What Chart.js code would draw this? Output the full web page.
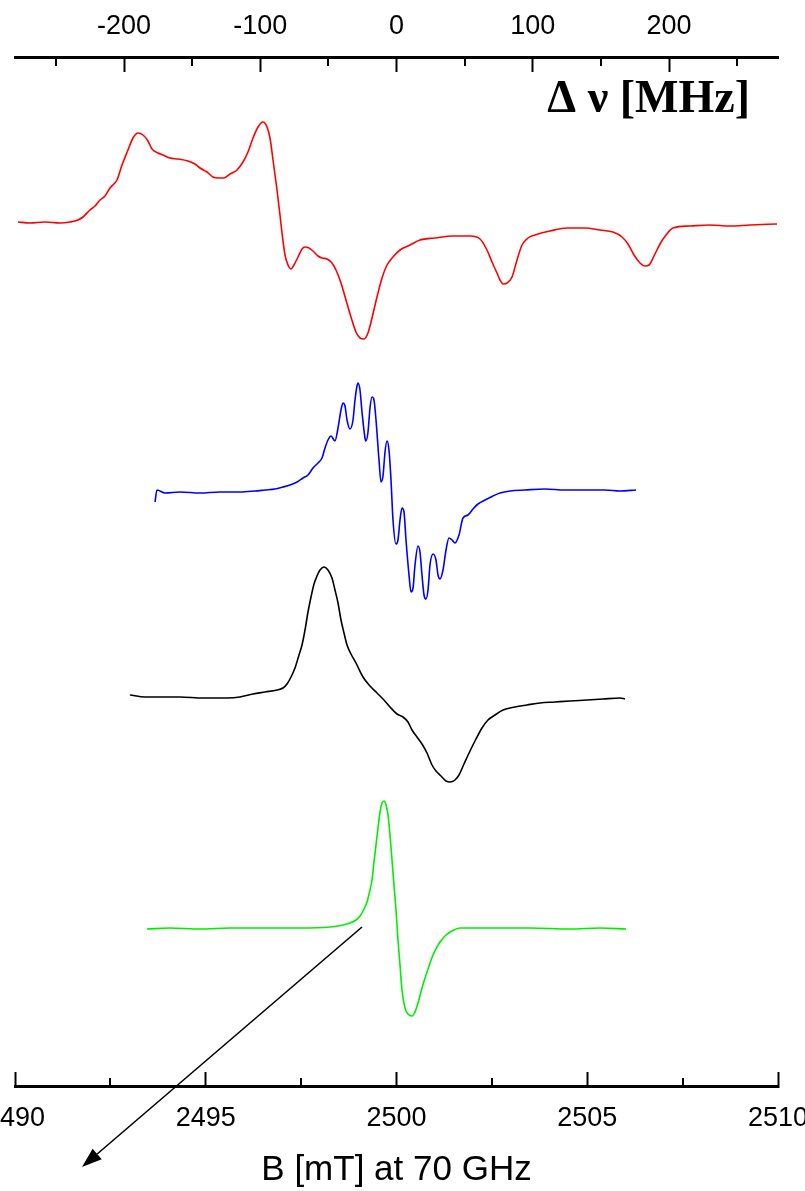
<!DOCTYPE html>
<html>
<head>
<meta charset="utf-8">
<script src="https://cdn.jsdelivr.net/npm/chart.js@4.4.1/dist/chart.umd.min.js"></script>
<style>
html,body{margin:0;padding:0;background:#fff;}
#wrap{width:805px;height:1191px;position:relative;}
</style>
</head>
<body>
<div id="wrap"><canvas id="c" width="805" height="1191"></canvas></div>
<script>
// ---- axis definitions ----
const B_MIN = 2490, B_MAX = 2510, B_CENTER = 2500;
const MHZ_PER_MT = 28;            // 70 GHz / 2500 mT
const bottomMajorStep = 5;
const bottomMinorTicks = [2492.5, 2497.5, 2502.5, 2507.5];
const topMajorStep = 100;
const topMinorTicks = [-250, -150, -50, 50, 150, 250];

// ---- vertical stacking offsets of the four spectra (arb. units) ----
const seriesNames = ['red', 'blue', 'black', 'green'];
const seriesColors = ['#ff0000', '#0000ff', '#000000', '#00ee00'];
const seriesOffsets = [863, 595, 388, 158];

// ---- spectrum 1 (red) ----
const redB = [2490.079,2490.393,2490.786,2491.180,2491.442,2491.651,2491.782,2491.966,2492.097,2492.228,2492.359,2492.490,2492.674,2492.805,2492.962,2493.093,2493.224,2493.355,2493.486,2493.591,2493.748,2493.879,2494.063,2494.273,2494.535,2494.718,2494.849,2495.033,2495.190,2495.321,2495.478,2495.636,2495.819,2495.976,2496.107,2496.239,2496.370,2496.501,2496.606,2496.684,2496.763,2496.868,2496.946,2496.999,2497.077,2497.156,2497.235,2497.313,2497.418,2497.523,2497.602,2497.706,2497.811,2497.942,2498.047,2498.178,2498.309,2498.414,2498.545,2498.676,2498.807,2498.938,2499.043,2499.148,2499.253,2499.358,2499.489,2499.620,2499.751,2499.908,2500.092,2500.354,2500.616,2501.009,2501.481,2501.927,2502.189,2502.372,2502.503,2502.634,2502.713,2502.792,2502.897,2503.028,2503.159,2503.290,2503.447,2503.630,2504.023,2504.469,2504.941,2505.334,2505.675,2505.911,2506.068,2506.225,2506.383,2506.514,2506.619,2506.750,2506.907,2507.064,2507.248,2507.693,2508.218,2508.742,2509.266,2509.974];
const redI = [1,0,1,0,1,3,6,13,17,23,27,35,43,58,73,85,90,88,82,74,70,68,65,64,62,59,55,51,46,45,45,49,53,61,71,85,96,101,96,85,63,33,8,-10,-32,-42,-46,-42,-34,-26,-24,-25,-28,-33,-35,-36,-40,-47,-60,-77,-94,-109,-115,-116,-110,-95,-74,-55,-42,-34,-27,-22,-17,-15,-13,-13,-16,-27,-39,-50,-57,-61,-60,-54,-37,-22,-15,-12,-8,-5,-5,-7,-9,-14,-21,-32,-40,-43,-42,-33,-21,-12,-5,-3,-2,-3,-2,-1];

// ---- spectrum 2 (blue) ----
const blueB = [2493.670,2493.722,2493.932,2494.325,2494.849,2495.374,2495.898,2496.291,2496.553,2496.815,2497.025,2497.208,2497.392,2497.549,2497.680,2497.811,2497.942,2498.047,2498.126,2498.204,2498.283,2498.388,2498.467,2498.545,2498.598,2498.650,2498.703,2498.781,2498.860,2498.912,2498.965,2498.991,2499.043,2499.096,2499.174,2499.200,2499.253,2499.305,2499.358,2499.410,2499.463,2499.541,2499.594,2499.646,2499.699,2499.751,2499.803,2499.856,2499.908,2499.987,2500.039,2500.092,2500.144,2500.197,2500.249,2500.328,2500.380,2500.433,2500.485,2500.564,2500.616,2500.668,2500.721,2500.773,2500.826,2500.878,2500.957,2501.035,2501.088,2501.140,2501.219,2501.298,2501.376,2501.455,2501.533,2501.638,2501.743,2501.874,2502.005,2502.136,2502.320,2502.530,2502.713,2502.975,2503.368,2503.893,2504.417,2504.941,2505.465,2505.858,2506.278];
const blueI = [-11,1,-2,-1,-2,-1,-1,0,1,2,4,6,9,13,16,23,28,33,43,51,55,50,63,81,88,85,71,62,71,91,105,108,101,79,53,50,59,83,94,91,71,31,9,15,39,50,41,11,-29,-53,-49,-29,-17,-21,-49,-84,-101,-97,-74,-55,-61,-84,-104,-108,-99,-74,-63,-69,-84,-88,-79,-59,-47,-49,-52,-44,-27,-24,-18,-13,-9,-5,-2,0,1,2,1,1,1,0,1];

// ---- spectrum 3 (black) ----
const blackB = [2493.014,2493.408,2493.801,2494.325,2494.928,2495.557,2495.898,2496.239,2496.553,2496.868,2497.025,2497.130,2497.235,2497.339,2497.444,2497.523,2497.602,2497.680,2497.759,2497.838,2497.916,2497.995,2498.100,2498.204,2498.309,2498.388,2498.467,2498.545,2498.624,2498.703,2498.807,2498.938,2499.122,2499.305,2499.489,2499.672,2499.830,2500.013,2500.170,2500.301,2500.406,2500.537,2500.668,2500.800,2500.931,2501.035,2501.166,2501.298,2501.402,2501.533,2501.638,2501.769,2501.927,2502.084,2502.241,2502.398,2502.582,2502.792,2503.106,2503.421,2503.762,2504.155,2504.548,2504.994,2505.413,2505.858,2505.989];
const blackI = [3,1,1,1,0,0,1,4,6,8,10,14,21,30,43,53,68,86,101,114,122,128,131,128,120,108,95,78,65,53,44,35,21,12,5,-2,-9,-16,-19,-24,-32,-39,-46,-55,-67,-73,-78,-83,-84,-82,-77,-66,-53,-41,-30,-22,-17,-12,-9,-7,-5,-4,-3,-2,-1,0,-1];

// ---- spectrum 4 (green) ----
const greenB = [2493.460,2494.063,2494.849,2495.636,2496.501,2497.471,2498.257,2498.598,2498.781,2498.938,2499.043,2499.148,2499.227,2499.305,2499.358,2499.410,2499.463,2499.515,2499.568,2499.620,2499.672,2499.725,2499.777,2499.830,2499.882,2499.934,2499.987,2500.039,2500.092,2500.144,2500.223,2500.301,2500.406,2500.485,2500.564,2500.668,2500.800,2500.957,2501.140,2501.298,2501.455,2501.664,2502.451,2503.499,2504.548,2505.334,2506.016];
const greenI = [-1,0,-1,0,0,0,1,3,5,8,12,19,26,38,48,66,83,100,116,125,127,123,113,93,68,43,18,-12,-37,-62,-80,-86,-88,-84,-75,-60,-44,-27,-14,-7,-3,0,0,0,-1,0,-1];

// ---- annotation arrow (data coords: B, stacked y) ----
const arrowFrom = [2499.096, 159];
const arrowTo = [2491.756, -81];

const seriesB = [redB, blueB, blackB, greenB];
const seriesI = [redI, blueI, blackI, greenI];

const datasets = seriesNames.map((name, k) => ({
  label: name,
  data: seriesB[k].map((b, i) => ({x: b, y: seriesOffsets[k] + seriesI[k][i]})),
  borderColor: seriesColors[k],
  borderWidth: 1.6,
  pointRadius: 0,
  fill: false,
  cubicInterpolationMode: 'monotone',
  xAxisID: 'x',
  yAxisID: 'y'
}));

const SANS = '"Liberation Sans", Arial, sans-serif';

const extrasPlugin = {
  id: 'extras',
  afterDraw(chart) {
    const ctx = chart.ctx;
    const xs = chart.scales.x, xt = chart.scales.x2, ys = chart.scales.y;
    ctx.save();
    ctx.strokeStyle = '#000';
    ctx.lineWidth = 2;
    // minor ticks bottom (inward)
    bottomMinorTicks.forEach(v => {
      const px = Math.round(xs.getPixelForValue(v));
      ctx.beginPath(); ctx.moveTo(px, xs.top); ctx.lineTo(px, xs.top - 8); ctx.stroke();
    });
    // minor ticks top (inward)
    topMinorTicks.forEach(v => {
      const px = Math.round(xt.getPixelForValue(v));
      ctx.beginPath(); ctx.moveTo(px, xt.bottom); ctx.lineTo(px, xt.bottom + 9); ctx.stroke();
    });
    // top axis caption
    ctx.fillStyle = '#000';
    ctx.font = 'bold 46px "Liberation Serif", "Times New Roman", serif';
    ctx.textAlign = 'right';
    ctx.textBaseline = 'alphabetic';
    ctx.fillText('\u0394 \u03bd [MHz]', 750, 112);
    // arrow
    const x1 = xs.getPixelForValue(arrowFrom[0]), y1 = ys.getPixelForValue(arrowFrom[1]);
    const x2 = xs.getPixelForValue(arrowTo[0]), y2 = ys.getPixelForValue(arrowTo[1]);
    const ang = Math.atan2(y2 - y1, x2 - x1);
    const L = 20, W = 7;
    const bx = x2 - L * Math.cos(ang), by = y2 - L * Math.sin(ang);
    ctx.lineWidth = 1.6;
    ctx.beginPath(); ctx.moveTo(x1, y1); ctx.lineTo(bx, by); ctx.stroke();
    ctx.beginPath();
    ctx.moveTo(x2, y2);
    ctx.lineTo(bx + W * Math.sin(ang), by - W * Math.cos(ang));
    ctx.lineTo(bx - W * Math.sin(ang), by + W * Math.cos(ang));
    ctx.closePath(); ctx.fill();
    ctx.restore();
  }
};

new Chart(document.getElementById('c'), {
  type: 'line',
  data: {datasets},
  plugins: [extrasPlugin],
  options: {
    responsive: false,
    animation: false,
    devicePixelRatio: 1,
    layout: {padding: {left: 15, right: 27, top: 0, bottom: 0}},
    plugins: {legend: {display: false}, tooltip: {enabled: false}},
    scales: {
      x: {
        type: 'linear', position: 'bottom', min: B_MIN, max: B_MAX,
        ticks: {stepSize: bottomMajorStep, color: '#000', padding: 30, maxRotation: 0,
                font: {family: SANS, size: 27}, callback: v => String(v)},
        grid: {display: true, drawOnChartArea: false, drawTicks: true, tickLength: -14, tickWidth: 2, tickColor: '#000'},
        border: {display: true, width: 3, color: '#000'},
        title: {display: true, text: 'B [mT] at 70 GHz', color: '#000', font: {family: SANS, size: 35}, padding: {top: 0, bottom: 0}},
        afterFit(s) { s.height = 105; s.paddingLeft = 0; s.paddingRight = 0; }
      },
      x2: {
        type: 'linear', position: 'top',
        min: (B_MIN - B_CENTER) * MHZ_PER_MT, max: (B_MAX - B_CENTER) * MHZ_PER_MT,
        ticks: {stepSize: topMajorStep, includeBounds: false, color: '#000', padding: 29, maxRotation: 0,
                font: {family: SANS, size: 27}, callback: v => String(v)},
        grid: {display: true, drawOnChartArea: false, drawTicks: true, tickLength: -15, tickWidth: 2, tickColor: '#000'},
        border: {display: true, width: 3, color: '#000'},
        afterFit(s) { s.height = 57; s.paddingLeft = 0; s.paddingRight = 0; }
      },
      y: {
        type: 'linear', display: false, min: 0, max: 1029
      }
    }
  }
});
</script>
</body>
</html>
